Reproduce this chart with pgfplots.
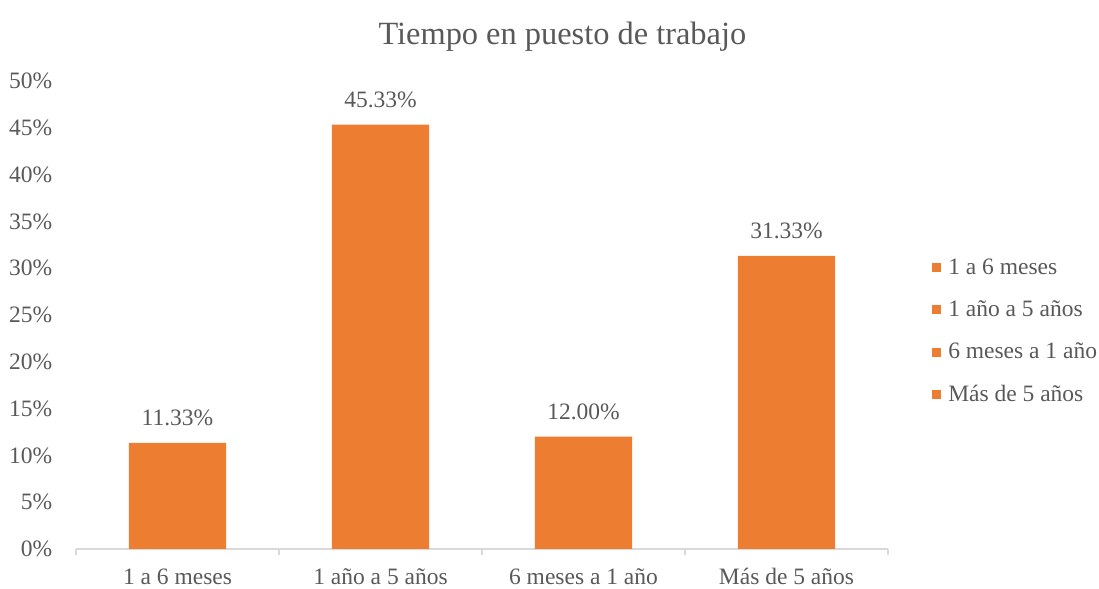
\documentclass[border=0pt]{standalone}
\usepackage{pgfplots}
\pgfplotsset{compat=1.18}
\usepackage{fontspec}
\setmainfont{Liberation Serif}
\definecolor{barc}{HTML}{ED7D31}
\definecolor{txt}{HTML}{595959}
\definecolor{axl}{HTML}{D9D9D9}
\begin{document}
\begin{tikzpicture}
\begin{axis}[
  at={(0,0)}, anchor=south west,
  scale only axis, width=406pt, height=234pt,
  xmin=-0.5, xmax=3.5, ymin=0, ymax=50,
  axis x line*=bottom, axis y line*=left,
  y axis line style={draw=none},
  x axis line style={draw=axl, line width=0.6pt},
  xtick={0,1,2,3},
  xticklabels={1 a 6 meses, 1 año a 5 años, 6 meses a 1 año, Más de 5 años},
  minor xtick={-0.5,0.5,1.5,2.5,3.5},
  major tick length=0pt,
  minor tick length=3pt,
  tick align=outside,
  minor tick style={draw=axl, line width=0.6pt},
  ytick={0,5,...,50},
  yticklabels={0\%,5\%,10\%,15\%,20\%,25\%,30\%,35\%,40\%,45\%,50\%},
  tick label style={font=\fontsize{11.75}{14}\selectfont, text=txt},
  yticklabel style={xshift=-8.4pt},
  xticklabel style={anchor=base, yshift=-18pt},
  /pgf/number format/assume math mode=true,
  title={Tiempo en puesto de trabajo},
  title style={at={(axis description cs:0.599,1.052)}, anchor=base, font=\fontsize{16.2}{19}\selectfont, text=txt},
  legend style={at={(axis description cs:1.054,0.465)}, anchor=west, draw=none, fill=none,
    font=\fontsize{11.75}{14}\selectfont, text=txt, row sep=7.7pt, inner sep=0pt,
    cells={anchor=west}},
  legend image code/.code={\fill[barc] (0pt,-2pt) rectangle (4pt,2pt); \path (5.6pt,0pt);},
]
\addplot[ybar, bar width=0.478, fill=barc, draw=none, bar shift=0pt, forget plot,
  nodes near coords={\pgfmathprintnumber[fixed,fixed zerofill,precision=2]{\pgfplotspointmeta}\%},
  nodes near coords style={anchor=base, yshift=8.8pt, font=\fontsize{11.75}{14}\selectfont, text=txt}]
  coordinates {(0,11.33) (1,45.33) (2,12.00) (3,31.33)};
\addlegendimage{barc}
\addlegendentry{1 a 6 meses}
\addlegendimage{barc}
\addlegendentry{1 año a 5 años}
\addlegendimage{barc}
\addlegendentry{6 meses a 1 año}
\addlegendimage{barc}
\addlegendentry{Más de 5 años}
\end{axis}
\pgfresetboundingbox
\path[use as bounding box] (-38pt,-20pt) rectangle (511.5pt,274.5pt);
\end{tikzpicture}
\end{document}
